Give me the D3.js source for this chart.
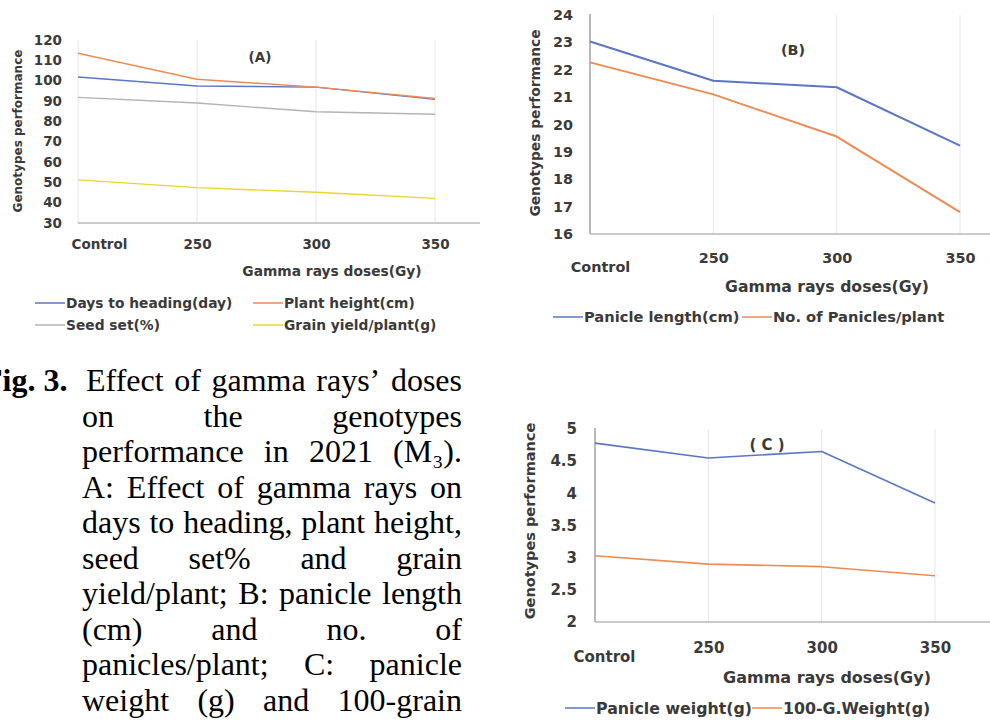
<!DOCTYPE html>
<html>
<head>
<meta charset="utf-8">
<script src="https://cdn.jsdelivr.net/npm/d3@7"></script>
<style>
  body { margin: 0; background: #fff; }
  svg { display: block; font-family: "DejaVu Sans", sans-serif; }
</style>
</head>
<body>
<svg width="990" height="724"></svg>
<script>
// ---- data ----
const doses = ["Control", "250", "300", "350"];

// (A)
const seriesA = ["Days to heading(day)", "Plant height(cm)", "Seed set(%)", "Grain yield/plant(g)"];
const daysToHeading = [101.8, 97.4, 96.8, 90.8];
const plantHeight = [113.5, 100.7, 96.8, 91.2];
const seedSet = [91.8, 89.0, 84.7, 83.5];
const grainYield = [51.2, 47.4, 45.1, 42.1];
const ticksA = [30, 40, 50, 60, 70, 80, 90, 100, 110, 120];

// (B)
const seriesB = ["Panicle length(cm)", "No. of Panicles/plant"];
const panicleLength = [23.03, 21.6, 21.36, 19.23];
const paniclesPlant = [22.27, 21.1, 19.56, 16.8];
const ticksB = [16, 17, 18, 19, 20, 21, 22, 23, 24];

// (C)
const seriesC = ["Panicle weight(g)", "100-G.Weight(g)"];
const panicleWeight = [4.78, 4.55, 4.65, 3.85];
const grainWeight100 = [3.03, 2.90, 2.86, 2.72];
const ticksC = [2, 2.5, 3, 3.5, 4, 4.5, 5];

const captionLines = [
  ["Effect", "of", "gamma", "rays’", "doses"],
  ["on", "the", "genotypes"],
  ["performance", "in", "2021", "(M₃)."],
  ["A:", "Effect", "of", "gamma", "rays", "on"],
  ["days", "to", "heading,", "plant", "height,"],
  ["seed", "set%", "and", "grain"],
  ["yield/plant;", "B:", "panicle", "length"],
  ["(cm)", "and", "no.", "of"],
  ["panicles/plant;", "C:", "panicle"],
  ["weight", "(g)", "and", "100-grain"]
];

const blue = "#5b76c4", orange = "#ee8a52", grey = "#b3b3b3", yellow = "#ebd42c";
const textCol = "#3a3a3a";

const svg = d3.select("svg");

function drawChart(c) {
  const g = svg.append("g").attr("font-weight", "bold").attr("fill", textCol);
  const x = d3.scalePoint().domain(doses).range([c.x0, c.x1]);
  const y = d3.scaleLinear().domain([c.ticks[0], c.ticks[c.ticks.length - 1]]).range([c.yBot, c.yTop]);

  // vertical gridlines
  g.selectAll(".grid").data(doses).enter().append("line")
    .attr("x1", d => x(d)).attr("x2", d => x(d))
    .attr("y1", c.yTop).attr("y2", c.yBot)
    .attr("stroke", "#e6e6e6").attr("stroke-width", 1);

  // axis lines
  g.append("line").attr("x1", c.x0).attr("x2", c.axisEnd)
    .attr("y1", c.yBot).attr("y2", c.yBot)
    .attr("stroke", "#b9b9b9").attr("stroke-width", 1.5);
  if (c.leftAxis) {
    g.append("line").attr("x1", c.x0).attr("x2", c.x0)
      .attr("y1", c.yTop - 1).attr("y2", c.yBot)
      .attr("stroke", "#a6a6a6").attr("stroke-width", 1.5);
  }

  // y tick labels
  const ya = g.append("g").attr("transform", `translate(${c.tickX},0)`)
    .call(d3.axisLeft(y).tickValues(c.ticks).tickSize(0).tickPadding(0).tickFormat(d3.format("~g")));
  ya.select(".domain").remove();
  ya.selectAll("text").attr("font-family", "DejaVu Sans").attr("font-weight", "bold")
    .attr("font-size", c.fsTick).attr("fill", textCol);

  // x tick labels
  const xa = g.append("g").attr("transform", `translate(0,${c.labelY})`)
    .call(d3.axisBottom(x).tickSize(0).tickPadding(0));
  xa.select(".domain").remove();
  xa.selectAll("text").attr("font-family", "DejaVu Sans").attr("font-weight", "bold")
    .attr("font-size", c.fsTick).attr("fill", textCol).attr("dy", "0.35em")
    .attr("transform", d => d === "Control" ? `translate(${c.ctrlDx},${c.ctrlDy})` : null);

  // series
  const line = d3.line().x((d, i) => x(doses[i])).y(d => y(d));
  g.selectAll(".series").data(c.series).enter().append("path")
    .attr("d", s => line(s.values))
    .attr("fill", "none").attr("stroke", s => s.color)
    .attr("stroke-width", c.lw).attr("stroke-linejoin", "round");

  // titles
  g.append("text").attr("x", c.titleX).attr("y", c.titleY).attr("dy", "0.35em")
    .attr("text-anchor", "middle").attr("font-size", c.fsTitle)
    .text("Gamma rays doses(Gy)");
  g.append("text").attr("transform", `translate(${c.yTitleX},${c.yTitleY}) rotate(-90)`)
    .attr("dy", "0.35em").attr("text-anchor", "middle")
    .attr("font-size", c.fsYTitle).text("Genotypes performance");
  g.append("text").attr("x", c.tagX).attr("y", c.tagY).attr("dy", "0.35em")
    .attr("text-anchor", "middle").attr("font-size", c.fsTick).text(c.tag);

  // legend
  const lg = g.selectAll(".leg").data(c.series).enter().append("g")
    .attr("transform", (s, i) => `translate(${c.legend[i][0]},${c.legend[i][1]})`);
  lg.append("line").attr("x1", 0).attr("x2", 30).attr("stroke", s => s.color).attr("stroke-width", 1.5);
  lg.append("text").attr("x", 31).attr("dy", "0.35em")
    .attr("font-size", c.fsLegend).text(s => s.name);
}

drawChart({
  x0: 78, x1: 435, yTop: 40, yBot: 223, axisEnd: 480, leftAxis: false,
  ticks: ticksA, tickX: 62, labelY: 244, ctrlDx: 21, ctrlDy: 0,
  fsTick: 13.5, fsTitle: 13.8, fsYTitle: 12, fsLegend: 13.8, lw: 1.4,
  titleX: 332, titleY: 271, yTitleX: 18, yTitleY: 131, tag: "(A)", tagX: 260, tagY: 57,
  series: [
    { name: seriesA[0], values: daysToHeading, color: blue },
    { name: seriesA[1], values: plantHeight, color: orange },
    { name: seriesA[2], values: seedSet, color: grey },
    { name: seriesA[3], values: grainYield, color: yellow }
  ],
  legend: [[35, 303], [253, 303], [35, 325], [253, 325]]
});

drawChart({
  x0: 590, x1: 960, yTop: 15, yBot: 234, axisEnd: 990, leftAxis: true,
  ticks: ticksB, tickX: 573, labelY: 258, ctrlDx: 10, ctrlDy: 9,
  fsTick: 14.4, fsTitle: 15.7, fsYTitle: 13.8, fsLegend: 14.7, lw: 2,
  titleX: 827, titleY: 287, yTitleX: 535, yTitleY: 123, tag: "(B)", tagX: 793, tagY: 50,
  series: [
    { name: seriesB[0], values: panicleLength, color: blue },
    { name: seriesB[1], values: paniclesPlant, color: orange }
  ],
  legend: [[553, 317], [742, 317]]
});

drawChart({
  x0: 595, x1: 935, yTop: 429, yBot: 622, axisEnd: 990, leftAxis: true,
  ticks: ticksC, tickX: 577, labelY: 648, ctrlDx: 9, ctrlDy: 9,
  fsTick: 15, fsTitle: 16, fsYTitle: 14.5, fsLegend: 15.8, lw: 1.6,
  titleX: 827, titleY: 677, yTitleX: 530, yTitleY: 521, tag: "( C )", tagX: 767, tagY: 445,
  series: [
    { name: seriesC[0], values: panicleWeight, color: blue },
    { name: seriesC[1], values: grainWeight100, color: orange }
  ],
  legend: [[565, 708], [752, 708]]
});

// ---- caption, justified between two margins ----
const cap = svg.append("g").attr("font-family", "'Liberation Serif', 'Times New Roman', serif")
  .attr("font-size", 32).attr("fill", "#000");
cap.append("text").attr("x", -17).attr("y", 391).attr("font-weight", "bold").text("Fig. 3.");

captionLines.forEach((words, li) => {
  const left = li === 0 ? 86 : 82, right = 462, base = 391 + li * 35.5;
  const nodes = words.map(w => cap.append("text").attr("y", base).text(w));
  const widths = nodes.map(n => n.node().getComputedTextLength());
  const gap = words.length > 1 ? (right - left - d3.sum(widths)) / (words.length - 1) : 0;
  let cx = left;
  nodes.forEach((n, i) => { n.attr("x", cx); cx += widths[i] + gap; });
});
</script>
</body>
</html>
